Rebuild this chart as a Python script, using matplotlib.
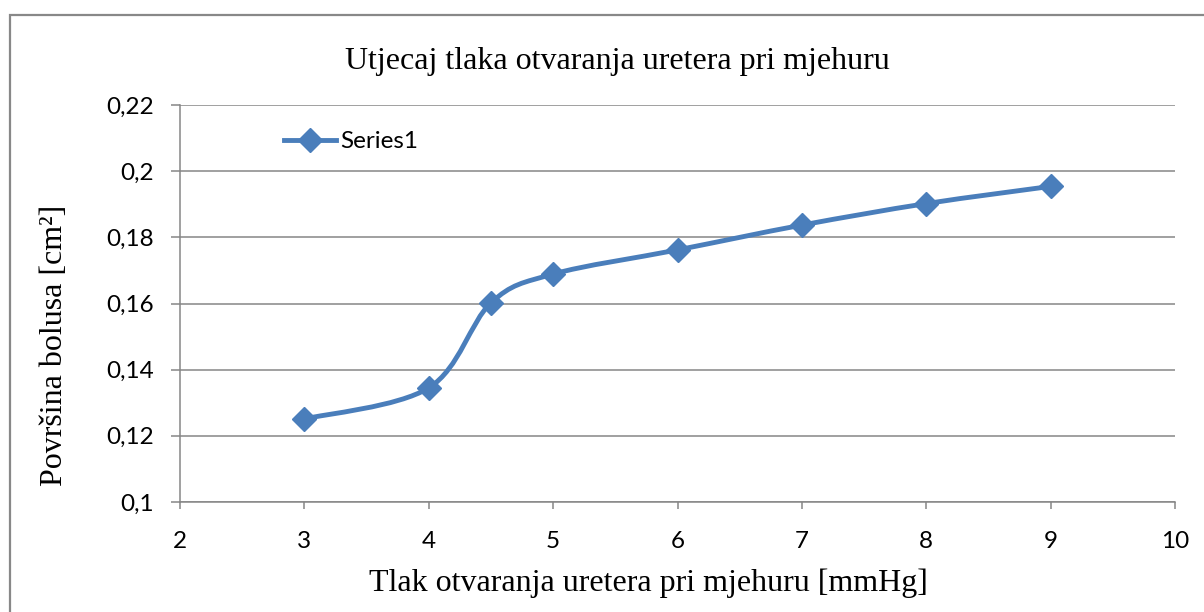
import numpy as np
import matplotlib.pyplot as plt
from matplotlib.path import Path
from matplotlib.patches import PathPatch, Rectangle
from matplotlib.lines import Line2D

# data
tlak = [3, 4, 4.5, 5, 6, 7, 8, 9]
povrsina = [0.1251, 0.1345, 0.1602, 0.1689, 0.1762, 0.1837, 0.1902, 0.1954]
x_ticks = [2, 3, 4, 5, 6, 7, 8, 9, 10]
y_ticks = [0.10, 0.12, 0.14, 0.16, 0.18, 0.20, 0.22]
y_labels = ["0,1", "0,12", "0,14", "0,16", "0,18", "0,2", "0,22"]

title = "Utjecaj tlaka otvaranja uretera pri mjehuru"
xlabel = "Tlak otvaranja uretera pri mjehuru [mmHg]"
ylabel = "Površina bolusa [cm²]"
series = "Series1"

blue = "#4A7EBB"
grey = "#868686"
serif = "Liberation Serif"
sans = "Lato"


def smooth_path(xs, ys):
    # excel-like smoothed line: bezier segments through the points
    p = np.column_stack([xs, ys]).astype(float)
    n = len(p)
    verts = [p[0]]
    codes = [Path.MOVETO]
    for i in range(n - 1):
        prev = p[i - 1] if i > 0 else p[i]
        nxt = p[i + 2] if i + 2 < n else p[i + 1]
        c1 = p[i] + (p[i + 1] - prev) / 6.0
        c2 = p[i + 1] - (nxt - p[i]) / 6.0
        verts += [c1, c2, p[i + 1]]
        codes += [Path.CURVE4] * 3
    return Path(verts, codes)


fig = plt.figure(figsize=(12.04, 6.12), dpi=100)
ax = fig.add_axes([180 / 1204, 110 / 612, 995 / 1204, 397 / 612])

ax.add_patch(PathPatch(smooth_path(tlak, povrsina), fill=False, edgecolor=blue,
                       lw=3.5, capstyle="round", joinstyle="round", zorder=3))
ax.plot(tlak, povrsina, linestyle="none", marker="D", markersize=12.5,
        color=blue, zorder=4)

ax.set_xlim(2, 10)
ax.set_ylim(0.1, 0.22)
ax.set_xticks(x_ticks)
ax.set_xticklabels([str(t) for t in x_ticks], fontsize=17.5, family=sans)
ax.set_yticks(y_ticks)
ax.set_yticklabels(y_labels, fontsize=17.5, family=sans)
ax.tick_params(axis="y", length=6.5, width=1.1, color=grey, pad=12)
ax.tick_params(axis="x", length=5, width=1.1, color=grey, pad=16)

ax.grid(axis="y", color=grey, lw=1.1)
ax.set_axisbelow(True)
for s in ["top", "right"]:
    ax.spines[s].set_visible(False)
for s in ["left", "bottom"]:
    ax.spines[s].set_color(grey)
    ax.spines[s].set_linewidth(1.1)

handle = Line2D([], [], color=blue, lw=3.5, marker="D", markersize=12.5)
ax.legend([handle], [series], loc="center left", bbox_to_anchor=(0.105, 0.907),
          frameon=False, borderpad=0, borderaxespad=0, handlelength=2.1,
          handletextpad=0.2, prop={"family": sans, "size": 17.5})

fig.text(617 / 1204, 1 - 62 / 612, title, ha="center", va="center",
         fontsize=23, family=serif)
fig.text(648 / 1204, 1 - 583 / 612, xlabel, ha="center", va="center",
         fontsize=23, family=serif)
fig.text(55 / 1204, 1 - 345 / 612, ylabel, ha="center", va="center",
         rotation=90, fontsize=23, family=serif)

# outer chart frame, cut off at right and bottom like the screenshot
fig.patches.append(Rectangle((10 / 1204, -0.05), 1.1, 1 - 15 / 612 + 0.05,
                             transform=fig.transFigure, fill=False,
                             edgecolor="#888888", lw=1.6))

fig.savefig("out.png", dpi=100)
